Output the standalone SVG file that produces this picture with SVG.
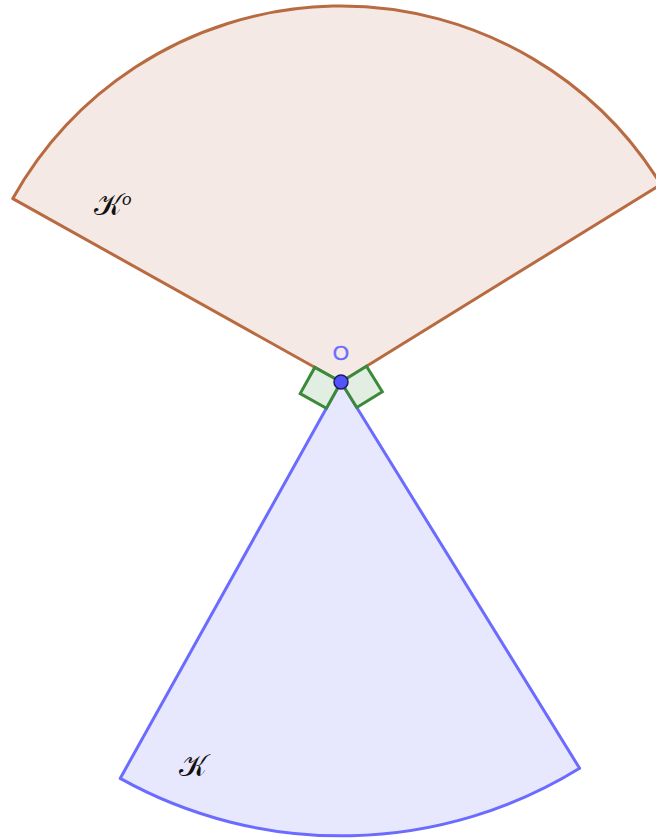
<svg xmlns="http://www.w3.org/2000/svg" width="656" height="838" viewBox="0 0 656 838">
<style>
.polar{fill:#f4e9e4;stroke:#b86a40;stroke-width:3;stroke-linejoin:round}
.cone{fill:#e7e7fd;stroke:#6b6bff;stroke-width:3;stroke-linejoin:round}
.ra{fill:#e3eee2;stroke:#3a8a3a;stroke-width:3;stroke-linejoin:miter}
.lbl{font-family:"DejaVu Serif","Liberation Serif",serif;font-size:30px;fill:#111}
.pt{font-family:"Liberation Sans",Arial,sans-serif;font-size:21px;fill:#6b6bff;stroke:#6b6bff;stroke-width:0.4}
</style>
<g id="polar-cone">
<path class="polar" d="M341 382 L12.8 198.6 A376 376 0 0 1 660.9 184.4 Z"/>
</g>
<g id="cone">
<path class="cone" d="M341 382 L579.6 768.3 A454 454 0 0 1 120.2 778.4 Z"/>
</g>
<g id="connectors">
<path class="ra" d="M341 382 L314.8 367.4 L300.2 393.6 L326.4 408.2 Z"/>
<path class="ra" d="M341 382 L366.5 366.2 L382.3 391.7 L356.8 407.5 Z"/>
</g>
<g id="point-O">
<circle cx="341" cy="382" r="7" fill="#5252ff" stroke="#1c1c5a" stroke-width="1.5"/>
<text class="pt" x="341" y="360" text-anchor="middle">O</text>
</g>
<g id="label-Ko">
<text class="lbl" x="94" y="215">𝒦<tspan font-size="19" font-style="italic" font-family="Liberation Serif, serif" dy="-10">o</tspan></text>
</g>
<g id="label-K">
<text class="lbl" x="179" y="776">𝒦</text>
</g>
</svg>
